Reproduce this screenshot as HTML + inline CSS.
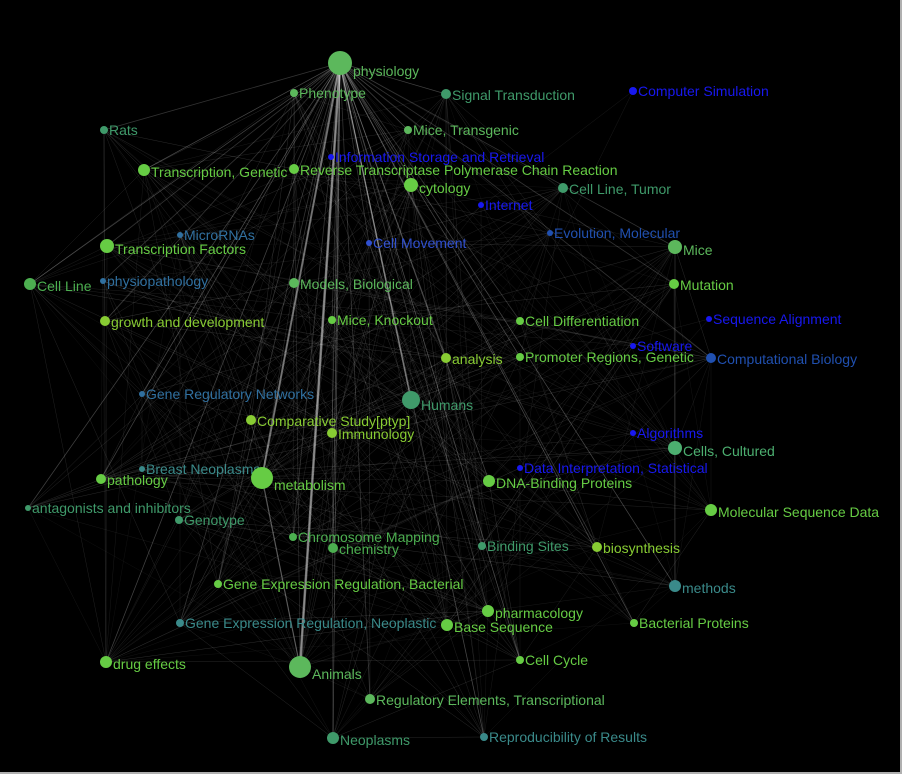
<!DOCTYPE html>
<html><head><meta charset="utf-8"><style>
html,body{margin:0;padding:0;background:#000;}
#w{width:900px;height:772px;border-right:2px solid #b0b0b0;border-bottom:2px solid #b0b0b0;background:#000;overflow:hidden;}
svg text{font-family:"Liberation Sans",sans-serif;font-size:14px;}
</style></head><body><div id="w">
<svg id="s" width="900" height="772" xmlns="http://www.w3.org/2000/svg">
<g id="edges"></g>
<g id="nodes"></g>
</svg></div>
<script>
var B="#1818f0",G="#5cb85c",L="#66cc44",Y="#88cc33",T="#3f9a6a",C="#3a8a8a",M="#3070a0",D="#2050b0";
var N=[
["physiology",340,63,12,G],["Phenotype",294,93,4,G],["Signal Transduction",446,94,5,T],["Computer Simulation",633,91,4,B],
["Rats",104,130,4,T],["Mice, Transgenic",408,130,4,G],["Information Storage and Retrieval",331,157,3,B],
["Transcription, Genetic",144,170,6,L],["Reverse Transcriptase Polymerase Chain Reaction",294,169,5,L],["cytology",411,185,7,L],
["Cell Line, Tumor",563,188,5,T],["Internet",481,205,3,B],["MicroRNAs",180,235,3,M],["Evolution, Molecular",550,233,3,D],
["Cell Movement",369,243,3,"#3050d0"],["Transcription Factors",107,246,7,L],["Mice",675,247,7,G],["Cell Line",30,284,6,"#4caf50"],
["physiopathology",103,281,3,M],["Models, Biological",294,283,5,G],["Mutation",674,284,5,L],["growth and development",105,321,5,Y],
["Mice, Knockout",332,320,4,L],["Cell Differentiation",520,321,4,L],["Sequence Alignment",709,319,3,B],["Software",633,346,3,B],
["Computational Biology",711,358,5,D],["analysis",446,358,5,Y],["Promoter Regions, Genetic",520,357,4,L],
["Gene Regulatory Networks",142,394,3,M],["Humans",411,400,9,T],["Comparative Study[ptyp]",251,420,5,Y],["Immunology",332,433,5,Y],
["Algorithms",633,433,3,B],["Cells, Cultured",675,448,7,"#4caf70"],["Breast Neoplasms",142,469,3,C],["Data Interpretation, Statistical",520,468,3,B],
["pathology",101,479,5,L],["metabolism",262,478,11,L],["DNA-Binding Proteins",489,481,6,L],["antagonists and inhibitors",28,508,3,T],
["Genotype",179,520,4,T],["Molecular Sequence Data",711,510,6,L],["Chromosome Mapping",293,537,4,"#4caf50"],["chemistry",333,548,5,"#4caf50"],
["Binding Sites",482,546,4,T],["biosynthesis",597,547,5,Y],["Gene Expression Regulation, Bacterial",218,584,4,L],["methods",675,586,6,C],
["pharmacology",488,611,6,L],["Gene Expression Regulation, Neoplastic",180,623,4,C],["Base Sequence",447,625,6,L],["Bacterial Proteins",634,623,4,L],
["drug effects",106,662,6,L],["Cell Cycle",520,660,4,L],["Animals",300,667,11,G],["Regulatory Elements, Transcriptional",370,699,5,G],
["Neoplasms",333,738,6,T],["Reproducibility of Results",484,737,4,C]
];
var ns="http://www.w3.org/2000/svg";
var eg=document.getElementById("edges"),ng=document.getElementById("nodes");
var seed=7;function rnd(){seed=(seed*16807)%2147483647;return seed/2147483647;}
function line(a,b,w,o){var l=document.createElementNS(ns,"line");l.setAttribute("x1",a[1]);l.setAttribute("y1",a[2]);l.setAttribute("x2",b[1]);l.setAttribute("y2",b[2]);l.setAttribute("stroke","#fff");l.setAttribute("stroke-width",w);l.setAttribute("stroke-opacity",o);eg.appendChild(l);}
for(var i=0;i<N.length;i++){for(var j=i+1;j<N.length;j++){
 if(N[i][4]==B||N[j][4]==B){ if(rnd()<0.05) line(N[i],N[j],0.5,0.1); continue;}
 var p=(N[i][3]+N[j][3])/30; p=p*p*1.4+0.1;
 if(rnd()<p) line(N[i],N[j],0.5,0.06+rnd()*0.12);
}}
var ph=N[0];
N.forEach(function(n){if(n!==ph&&n[4]!=B&&rnd()<0.8)line(ph,n,0.8,0.2);});
line(ph,N[55],2.5,0.45);line(ph,N[38],2,0.4);line(ph,N[30],1.5,0.3);line(N[38],N[55],1.2,0.3);
N.forEach(function(n){
 var c=document.createElementNS(ns,"circle");c.setAttribute("cx",n[1]);c.setAttribute("cy",n[2]);c.setAttribute("r",n[3]);c.setAttribute("fill",n[4]);ng.appendChild(c);
 var t=document.createElementNS(ns,"text");t.setAttribute("x",n[1]+n[3]+1);t.setAttribute("y",n[2]+5+Math.max(0,n[3]-4)*1.0);t.setAttribute("fill",n[4]);t.textContent=n[0];ng.appendChild(t);
});
</script>
</body></html>
